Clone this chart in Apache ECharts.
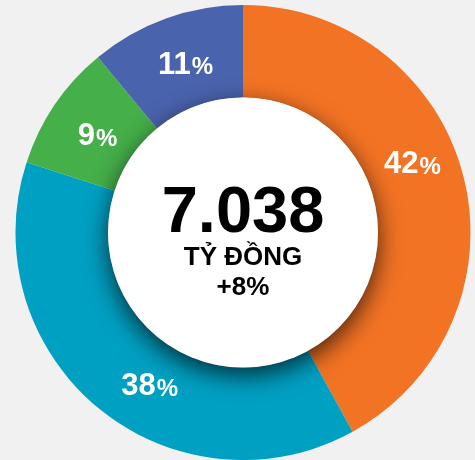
<!DOCTYPE html>
<html>
	<head>
		<meta http-equiv="Content-Type" content="text/html; charset=utf-8" />
		<title>donut</title>
		<style>
			body,
			html {
				padding: 0;
				margin: 0;
				background: #F1F1F1;
			}
		</style>
	</head>
	<body>
		<div id="container" style="width: 475px; height: 460px"></div>
		<script src="https://cdn.jsdelivr.net/npm/echarts@6/dist/echarts.min.js"></script>
		<script>
			var names = ['A', 'B', 'C', 'D'];
			var values = [42, 38, 9, 11];
			var colors = ['#F37324', '#00A0C3', '#45AF4A', '#4A63AD'];
			var totalText = '7.038';
			var unitText = 'TỶ ĐỒNG';
			var growthText = '+8%';

			var cx = 243, cy = 232.5;
			// label nudges (px) so the labels sit where the original puts them
			var nudge = [[-9, -22], [24, 12], [7, 8], [5, 6]];

			var chart = echarts.init(document.getElementById('container'));
			chart.setOption({
				backgroundColor: '#F1F1F1',
				animation: false,
				series: [{
					type: 'pie',
					center: [cx, cy],
					radius: [135, 227.5],
					startAngle: 90,
					clockwise: true,
					silent: true,
					data: values.map(function (v, i) {
						return { name: names[i], value: v, itemStyle: { color: colors[i] } };
					}),
					label: {
						position: 'inside',
						formatter: function (p) { return '{n|' + p.value + '}{p|%}'; },
						rich: {
							n: { color: '#fff', fontSize: 31, fontWeight: 'bold', fontFamily: 'Liberation Sans, Arial' },
							p: { color: '#fff', fontSize: 24, fontWeight: 'bold', fontFamily: 'Liberation Sans, Arial', padding: [5, 0, 0, 1] }
						}
					},
					labelLayout: function (p) {
						return { dx: nudge[p.dataIndex][0], dy: nudge[p.dataIndex][1] };
					},
					labelLine: { show: false }
				}],
				graphic: [{
					type: 'circle',
					z: 10,
					shape: { cx: cx, cy: cy, r: 135 },
					style: {
						fill: '#fff',
						shadowBlur: 24,
						shadowOffsetY: 8,
						shadowColor: 'rgba(0,0,0,0.7)'
					}
				}, {
					type: 'text',
					z: 11,
					x: cx,
					y: 214,
					style: {
						text: totalText,
						fill: '#000',
						font: 'bold 65px "Liberation Sans", Arial',
						align: 'center',
						verticalAlign: 'middle'
					}
				}, {
					type: 'text',
					z: 11,
					x: cx,
					y: 258,
					style: {
						text: unitText,
						fill: '#000',
						font: 'bold 26px "Liberation Sans", Arial',
						align: 'center',
						verticalAlign: 'middle'
					}
				}, {
					type: 'text',
					z: 11,
					x: cx,
					y: 288,
					style: {
						text: growthText,
						fill: '#000',
						font: 'bold 26px "Liberation Sans", Arial',
						align: 'center',
						verticalAlign: 'middle'
					}
				}]
			});
		</script>
	</body>
</html>
